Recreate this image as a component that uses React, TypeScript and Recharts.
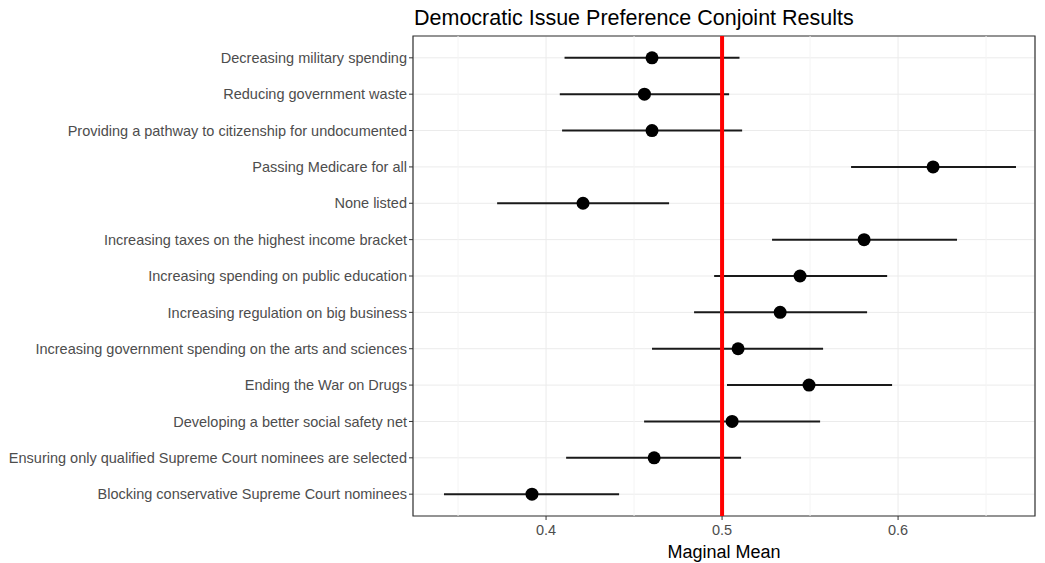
import React from "react";
import {
  ScatterChart,
  Scatter,
  ErrorBar,
  XAxis,
  YAxis,
  CartesianGrid,
  ReferenceLine,
  ReferenceArea,
} from "recharts";

// issues, top to bottom as in the figure
const issues = [
  "Decreasing military spending",
  "Reducing government waste",
  "Providing a pathway to citizenship for undocumented",
  "Passing Medicare for all",
  "None listed",
  "Increasing taxes on the highest income bracket",
  "Increasing spending on public education",
  "Increasing regulation on big business",
  "Increasing government spending on the arts and sciences",
  "Ending the War on Drugs",
  "Developing a better social safety net",
  "Ensuring only qualified Supreme Court nominees are selected",
  "Blocking conservative Supreme Court nominees",
];

const means = [
  0.4602, 0.4559, 0.4602, 0.6199, 0.421, 0.5807, 0.5443, 0.533, 0.5091, 0.5494,
  0.5057, 0.4614, 0.392,
];
const lower = [
  0.4105, 0.4078, 0.4091, 0.5733, 0.3722, 0.5284, 0.4955, 0.4841, 0.4602,
  0.5028, 0.4557, 0.4114, 0.342,
];
const upper = [
  0.5099, 0.504, 0.5114, 0.667, 0.4699, 0.6335, 0.5938, 0.5824, 0.5574, 0.5966,
  0.5557, 0.5108, 0.4415,
];

const xTicks = [0.4, 0.5, 0.6];
const xMinor = [0.35, 0.45, 0.55, 0.65];
const xDomain: [number, number] = [0.3244, 0.6778];

const FONT = "'Liberation Sans', Arial, sans-serif";

const data = issues.map((issue, i) => ({
  issue,
  y: i + 1,
  x: means[i],
  err: [means[i] - lower[i], upper[i] - means[i]],
}));

const yTicks = issues.map((_, i) => i + 1);

export default function App() {
  return (
    <div
      style={{
        position: "absolute",
        left: 0,
        top: 0,
        width: 1045,
        height: 563,
        background: "#fff",
        fontFamily: FONT,
      }}
    >
      <div
        style={{
          position: "absolute",
          left: 414,
          top: 5,
          fontSize: 21.5,
          lineHeight: "26px",
          color: "#000",
          whiteSpace: "nowrap",
        }}
      >
        Democratic Issue Preference Conjoint Results
      </div>
      <ScatterChart
        width={1045}
        height={563}
        margin={{ top: 36, right: 10, left: 0, bottom: 0 }}
      >
        <CartesianGrid stroke="#ebebeb" strokeWidth={1} />
        {xMinor.map((v) => (
          <ReferenceLine key={v} x={v} stroke="#f4f4f4" strokeWidth={1} />
        ))}
        <XAxis
          type="number"
          dataKey="x"
          domain={xDomain}
          ticks={xTicks}
          allowDataOverflow
          height={47}
          tickSize={4}
          tickMargin={5}
          tickLine={{ stroke: "#333" }}
          axisLine={false}
          tick={{ fontSize: 14.5, fill: "#4d4d4d", fontFamily: FONT }}
          tickFormatter={(v) => String(v)}
          label={{
            value: "Maginal Mean",
            position: "insideBottom",
            offset: 5,
            fontSize: 18,
            fill: "#000",
            fontFamily: FONT,
          }}
        />
        <YAxis
          type="number"
          dataKey="y"
          domain={[0.4, 13.6]}
          ticks={yTicks}
          reversed
          allowDataOverflow
          interval={0}
          width={413}
          tickSize={4}
          tickLine={{ stroke: "#333" }}
          axisLine={false}
          tick={{ fontSize: 14.5, fill: "#4d4d4d", fontFamily: FONT }}
          tickFormatter={(v) => issues[Number(v) - 1] ?? ""}
        />
        <Scatter
          data={data}
          fill="#000"
          isAnimationActive={false}
          shape={(p: any) => <circle cx={p.cx} cy={p.cy} r={6.5} fill="#000" />}
        >
          <ErrorBar
            dataKey="err"
            direction="x"
            width={0}
            stroke="#1a1a1a"
            strokeWidth={2}
            isAnimationActive={false}
          />
        </Scatter>
        <ReferenceLine x={0.5} stroke="#ff0000" strokeWidth={4} />
        <ReferenceArea
          x1={xDomain[0]}
          x2={xDomain[1]}
          y1={0.4}
          y2={13.6}
          fill="none"
          stroke="#333"
          strokeWidth={1.2}
          ifOverflow="visible"
        />
      </ScatterChart>
    </div>
  );
}
